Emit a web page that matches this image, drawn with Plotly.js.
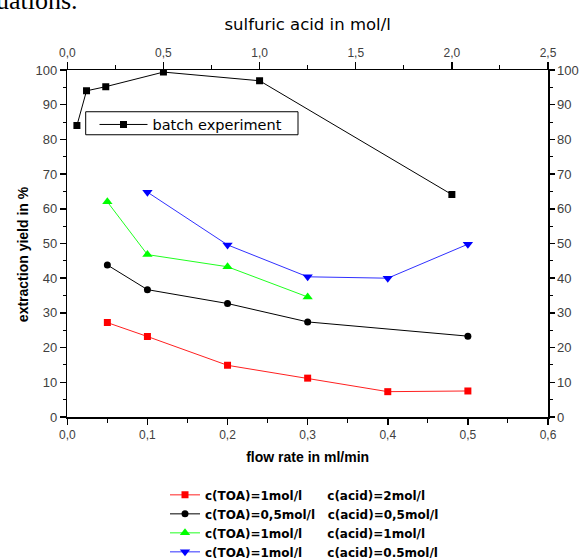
<!DOCTYPE html>
<html>
<head>
<meta charset="utf-8">
<script src="https://cdn.plot.ly/plotly-3.0.1.min.js"></script>
<style>html,body{margin:0;padding:0;background:#fff;}#chart{width:580px;height:558px;}</style>
</head>
<body>
<div id="chart"></div>
<script>
// Flow-rate experiments (bottom axis: flow rate in ml/min)
const flowRed = [0.05, 0.1, 0.2, 0.3, 0.4, 0.5];
const yieldRed = [27.2, 23.2, 14.9, 11.2, 7.3, 7.5];
const flowBlack = [0.05, 0.1, 0.2, 0.3, 0.5];
const yieldBlack = [43.8, 36.7, 32.7, 27.4, 23.3];
const flowGreen = [0.05, 0.1, 0.2, 0.3];
const yieldGreen = [62.0, 46.8, 43.3, 34.6];
const flowBlue = [0.1, 0.2, 0.3, 0.4, 0.5];
const yieldBlue = [64.8, 49.6, 40.4, 40.0, 49.8];
// Batch experiment (top axis: sulfuric acid in mol/l)
const acidBatch = [0.05, 0.1, 0.2, 0.5, 1.0, 2.0];
const yieldBatch = [84.0, 94.0, 95.2, 99.4, 96.9, 64.1];

const NB = '\u00a0';
const pad = n => NB.repeat(n);
const names = [
  'c(TOA)=1mol/l' + pad(6) + 'c(acid)=2mol/l',
  'c(TOA)=0,5mol/l' + pad(3) + 'c(acid)=0,5mol/l',
  'c(TOA)=1mol/l' + pad(6) + 'c(acid)=1mol/l',
  'c(TOA)=1mol/l' + pad(6) + 'c(acid)=0.5mol/l'
];

const traces = [
  {x: flowRed, y: yieldRed, name: names[0], type: 'scatter', mode: 'lines+markers',
   line: {color: '#ff2020', width: 1}, marker: {symbol: 'square', size: 7, color: '#ff0000'}, legend: 'legend'},
  {x: flowBlack, y: yieldBlack, name: names[1], type: 'scatter', mode: 'lines+markers',
   line: {color: '#000000', width: 1}, marker: {symbol: 'circle', size: 7, color: '#000000'}, legend: 'legend'},
  {x: flowGreen, y: yieldGreen, name: names[2], type: 'scatter', mode: 'lines+markers',
   line: {color: '#20ff20', width: 1}, marker: {symbol: 'triangle-up', size: 9, color: '#00ff00'}, legend: 'legend'},
  {x: flowBlue, y: yieldBlue, name: names[3], type: 'scatter', mode: 'lines+markers',
   line: {color: '#3030ff', width: 1}, marker: {symbol: 'triangle-down', size: 9, color: '#0000ff'}, legend: 'legend'},
  {x: acidBatch, y: yieldBatch, name: 'batch experiment', type: 'scatter', mode: 'lines+markers',
   xaxis: 'x2', yaxis: 'y',
   line: {color: '#000000', width: 1}, marker: {symbol: 'square', size: 7, color: '#000000'}, legend: 'legend2'},
  // invisible trace to carry the right-hand y axis
  {x: [0, 0.6], y: [0, 100], xaxis: 'x', yaxis: 'y2', mode: 'markers', marker: {opacity: 0}, showlegend: false, hoverinfo: 'skip'}
];

const tickFontX = {family: 'Arial, Liberation Sans, sans-serif', size: 12, color: '#404040'};
const tickFontY = {family: 'Arial, Liberation Sans, sans-serif', size: 13, color: '#404040'};

const PL = 64, PR = 550, PT = 70, PB = 416.7;
const PW = PR - PL, PH = PB - PT;
const px = v => (v - PL) / PW;
const py = v => (PB - v) / PH;

const layout = {
  width: 580, height: 558,
  paper_bgcolor: '#ffffff', plot_bgcolor: '#ffffff',
  separators: ', ',
  showlegend: true,
  margin: {l: PL, r: 580 - PR, t: PT, b: 558 - PB, pad: 0, autoexpand: false},
  xaxis: {
    domain: [px(67.3), px(548)],
    range: [0, 0.6], dtick: 0.1, tick0: 0, tickformat: '.1f', automargin: false,
    ticks: 'outside', ticklen: 6, tickwidth: 1.5, tickcolor: '#000',
    minor: {dtick: 0.05, ticks: 'outside', ticklen: 4, tickwidth: 1, tickcolor: '#000', showgrid: false},
    showline: true, linecolor: '#000', linewidth: 1.5, mirror: false,
    showgrid: false, zeroline: false, tickfont: tickFontX,
    title: {text: 'flow rate in ml/min', font: {family: 'Arial, Liberation Sans, sans-serif', size: 14, weight: 'bold', color: '#000'}, standoff: 11}
  },
  xaxis2: {
    domain: [0, 1],
    overlaying: 'x', side: 'top', anchor: 'y', automargin: false,
    range: [0, 2.5], dtick: 0.5, tick0: 0, tickformat: '.1f',
    ticks: 'outside', ticklen: 7, tickwidth: 1.5, tickcolor: '#000',
    minor: {dtick: 0.25, ticks: 'outside', ticklen: 4, tickwidth: 1, tickcolor: '#000', showgrid: false},
    showline: true, linecolor: '#000', linewidth: 1.5,
    showgrid: false, zeroline: false, tickfont: tickFontX,
    title: {text: 'sulfuric acid in mol/l', font: {family: 'DejaVu Sans, sans-serif', size: 16.5, color: '#000'}, standoff: 11}
  },
  yaxis: {
    range: [0, 100], dtick: 10, tick0: 0, automargin: false, anchor: 'x',
    ticks: 'outside', ticklen: 6, tickwidth: 1.5, tickcolor: '#000',
    minor: {dtick: 5, ticks: 'outside', ticklen: 3, tickwidth: 1, tickcolor: '#000', showgrid: false},
    showline: true, linecolor: '#000', linewidth: 1.5,
    showgrid: false, zeroline: false, tickfont: tickFontY
  },
  yaxis2: {
    overlaying: 'y', side: 'right', anchor: 'x', automargin: false,
    range: [0, 100], dtick: 10, tick0: 0,
    ticks: 'outside', ticklen: 5, tickwidth: 1.5, tickcolor: '#000',
    minor: {dtick: 5, ticks: 'outside', ticklen: 3, tickwidth: 1, tickcolor: '#000', showgrid: false},
    showline: true, linecolor: '#000', linewidth: 1.5,
    showgrid: false, zeroline: false, tickfont: tickFontY
  },
  legend: {
    xref: 'paper', yref: 'paper', x: px(165), y: py(480),
    xanchor: 'left', yanchor: 'top',
    bgcolor: 'rgba(0,0,0,0)', borderwidth: 0,
    font: {family: 'DejaVu Sans, sans-serif', size: 12, weight: 'bold', color: '#000'},
    itemwidth: 30, tracegroupgap: 0
  },
  legend2: {
    xref: 'paper', yref: 'paper', x: px(94.5), y: py(108.5),
    xanchor: 'left', yanchor: 'top',
    bgcolor: 'rgba(0,0,0,0)', borderwidth: 0,
    font: {family: 'DejaVu Sans, sans-serif', size: 14.5, color: '#000'},
    itemwidth: 48
  },
  shapes: [
    // frame of the inset "batch experiment" legend
    {type: 'rect', xref: 'paper', yref: 'paper', layer: 'above',
     x0: px(85.7), x1: px(298), y0: py(111.7), y1: py(134.7),
     line: {color: '#000', width: 1}, fillcolor: 'rgba(255,255,255,0)'}
  ],
  annotations: [
    {xref: 'paper', yref: 'paper', x: px(23), y: py(254), xanchor: 'center', yanchor: 'middle',
     text: 'extraction yield in %', textangle: -90, showarrow: false,
     font: {family: 'Arial, Liberation Sans, sans-serif', size: 14, weight: 'bold', color: '#000'}},
    {xref: 'paper', yref: 'paper', x: px(-6), y: py(1), xanchor: 'left', yanchor: 'middle',
     text: 'uations.', showarrow: false,
     font: {family: 'Liberation Serif, Times New Roman, serif', size: 26, color: '#000'}}
  ]
};

Plotly.newPlot('chart', traces, layout, {displayModeBar: false, staticPlot: true});
</script>
</body>
</html>
